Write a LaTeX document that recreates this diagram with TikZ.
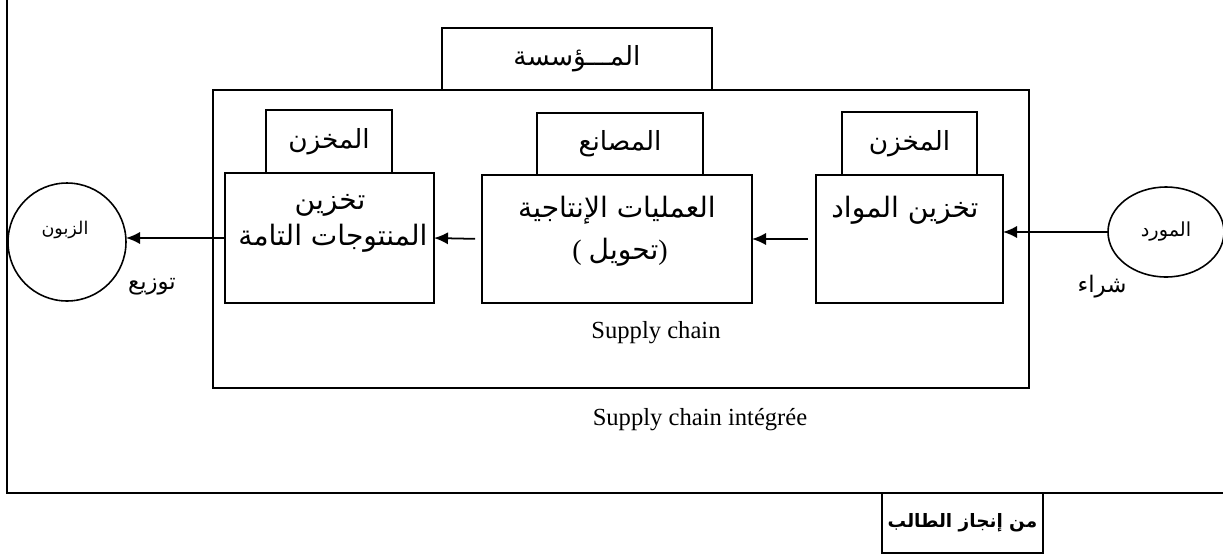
\documentclass[tikz,border=0pt]{standalone}
\usepackage{fontspec}
\setmainfont{Liberation Serif}
\newfontfamily\arabicfont[Script=Arabic]{DejaVu Sans}
\TeXXeTstate=1
\usetikzlibrary{positioning,arrows.meta,shapes.geometric}
\newcommand{\artxt}[1]{{\arabicfont\beginR #1\endR}}
\begin{document}
\begin{tikzpicture}[x=0.02cm, y=-0.02cm,
    box/.style={draw, line width=0.9pt, inner sep=0pt, outer sep=0pt},
    tabtxt/.style={font=\fontsize{15}{17}\selectfont},
    boxtxt/.style={font=\fontsize{16}{18}\selectfont},
    flow/.style={-{Latex[length=8pt,width=7pt]}, line width=1pt}]
      %\draw [dotted] (0,0) grid[step=50] (1223,555);
      \useasboundingbox (0,0) rectangle (1223,555);
      \draw [line width=0.9pt] (7,0) -- (7,493) -- (1223,493);
      \node [box, minimum width=16.32cm, minimum height=5.96cm] (chain)    at ( 621, 239) {};
      \node [box, tabtxt, minimum width=5.4cm, minimum height=1.24cm] (firm) at ( 577,  59) {\artxt{المـــؤسسة}};
      \node [box, tabtxt, minimum width=2.52cm, minimum height=1.26cm] (store1) at ( 329, 141.5) {\artxt{المخزن}};
      \node [box, tabtxt, minimum width=3.32cm, minimum height=1.24cm] (plant)  at ( 620, 144) {\artxt{المصانع}};
      \node [box, tabtxt, minimum width=2.7cm,  minimum height=1.26cm] (store2) at ( 909.5, 143.5) {\artxt{المخزن}};
      \node [box, minimum width=4.18cm, minimum height=2.6cm]  (goodsbox) at ( 329.5, 238) {};
      \node [box, minimum width=5.4cm,  minimum height=2.56cm] (plantbox) at ( 617, 239) {};
      \node [box, minimum width=3.74cm, minimum height=2.56cm] (rawbox)   at ( 909.5, 239) {};
      \node [boxtxt]  (goods1) at ( 330, 205) {\artxt{تخزين}};
      \node [boxtxt]  (goods2) at ( 333, 238) {\artxt{المنتوجات التامة}};
      \node [boxtxt]  (plant1) at ( 617, 210) {\artxt{العمليات الإنتاجية}};
      \node [boxtxt]  (plant2) at ( 620, 252) {( \artxt{تحويل})};
      \node [boxtxt]  (raw1)   at ( 905, 210) {\artxt{تخزين المواد}};
      \node [box, circle, minimum size=2.36cm] (client) at (  67, 242) {};
      \node [font=\fontsize{10}{12}\selectfont] (clienttxt) at (  65, 230) {\artxt{الزبون}};
      \node [box, ellipse, minimum width=2.32cm, minimum height=1.8cm, font=\fontsize{11}{13}\selectfont] (supplier) at (1166, 232) {\artxt{المورد}};
      \node [font=\fontsize{13}{15}\selectfont] (dist) at ( 152, 287) {\artxt{توزيع}};
      \node [font=\fontsize{13}{15}\selectfont] (buy)  at (1102, 287) {\artxt{شراء}};
      \node [font=\fontsize{14}{16}\selectfont] (sc)   at ( 656, 333) {Supply chain};
      \node [font=\fontsize{14}{16}\selectfont] (sci)  at ( 700, 420) {Supply chain intégrée};
      \node [box, minimum width=3.22cm, minimum height=1.2cm, font=\fontsize{10.5}{12}\selectfont\bfseries] (author) at ( 962.5, 523) {\artxt{من إنجاز الطالب}};
      \draw [flow] (supplier.west) -- (supplier.west -| rawbox.east);
      \draw [flow, shorten <=0.16cm] (rawbox.west) -- (plantbox.east);
      \draw [flow, shorten <=0.14cm] (plantbox.west) -- (goodsbox.east);
      \draw [flow] (goodsbox.west) -- (goodsbox.west -| client.east);
\end{tikzpicture}
\end{document}
